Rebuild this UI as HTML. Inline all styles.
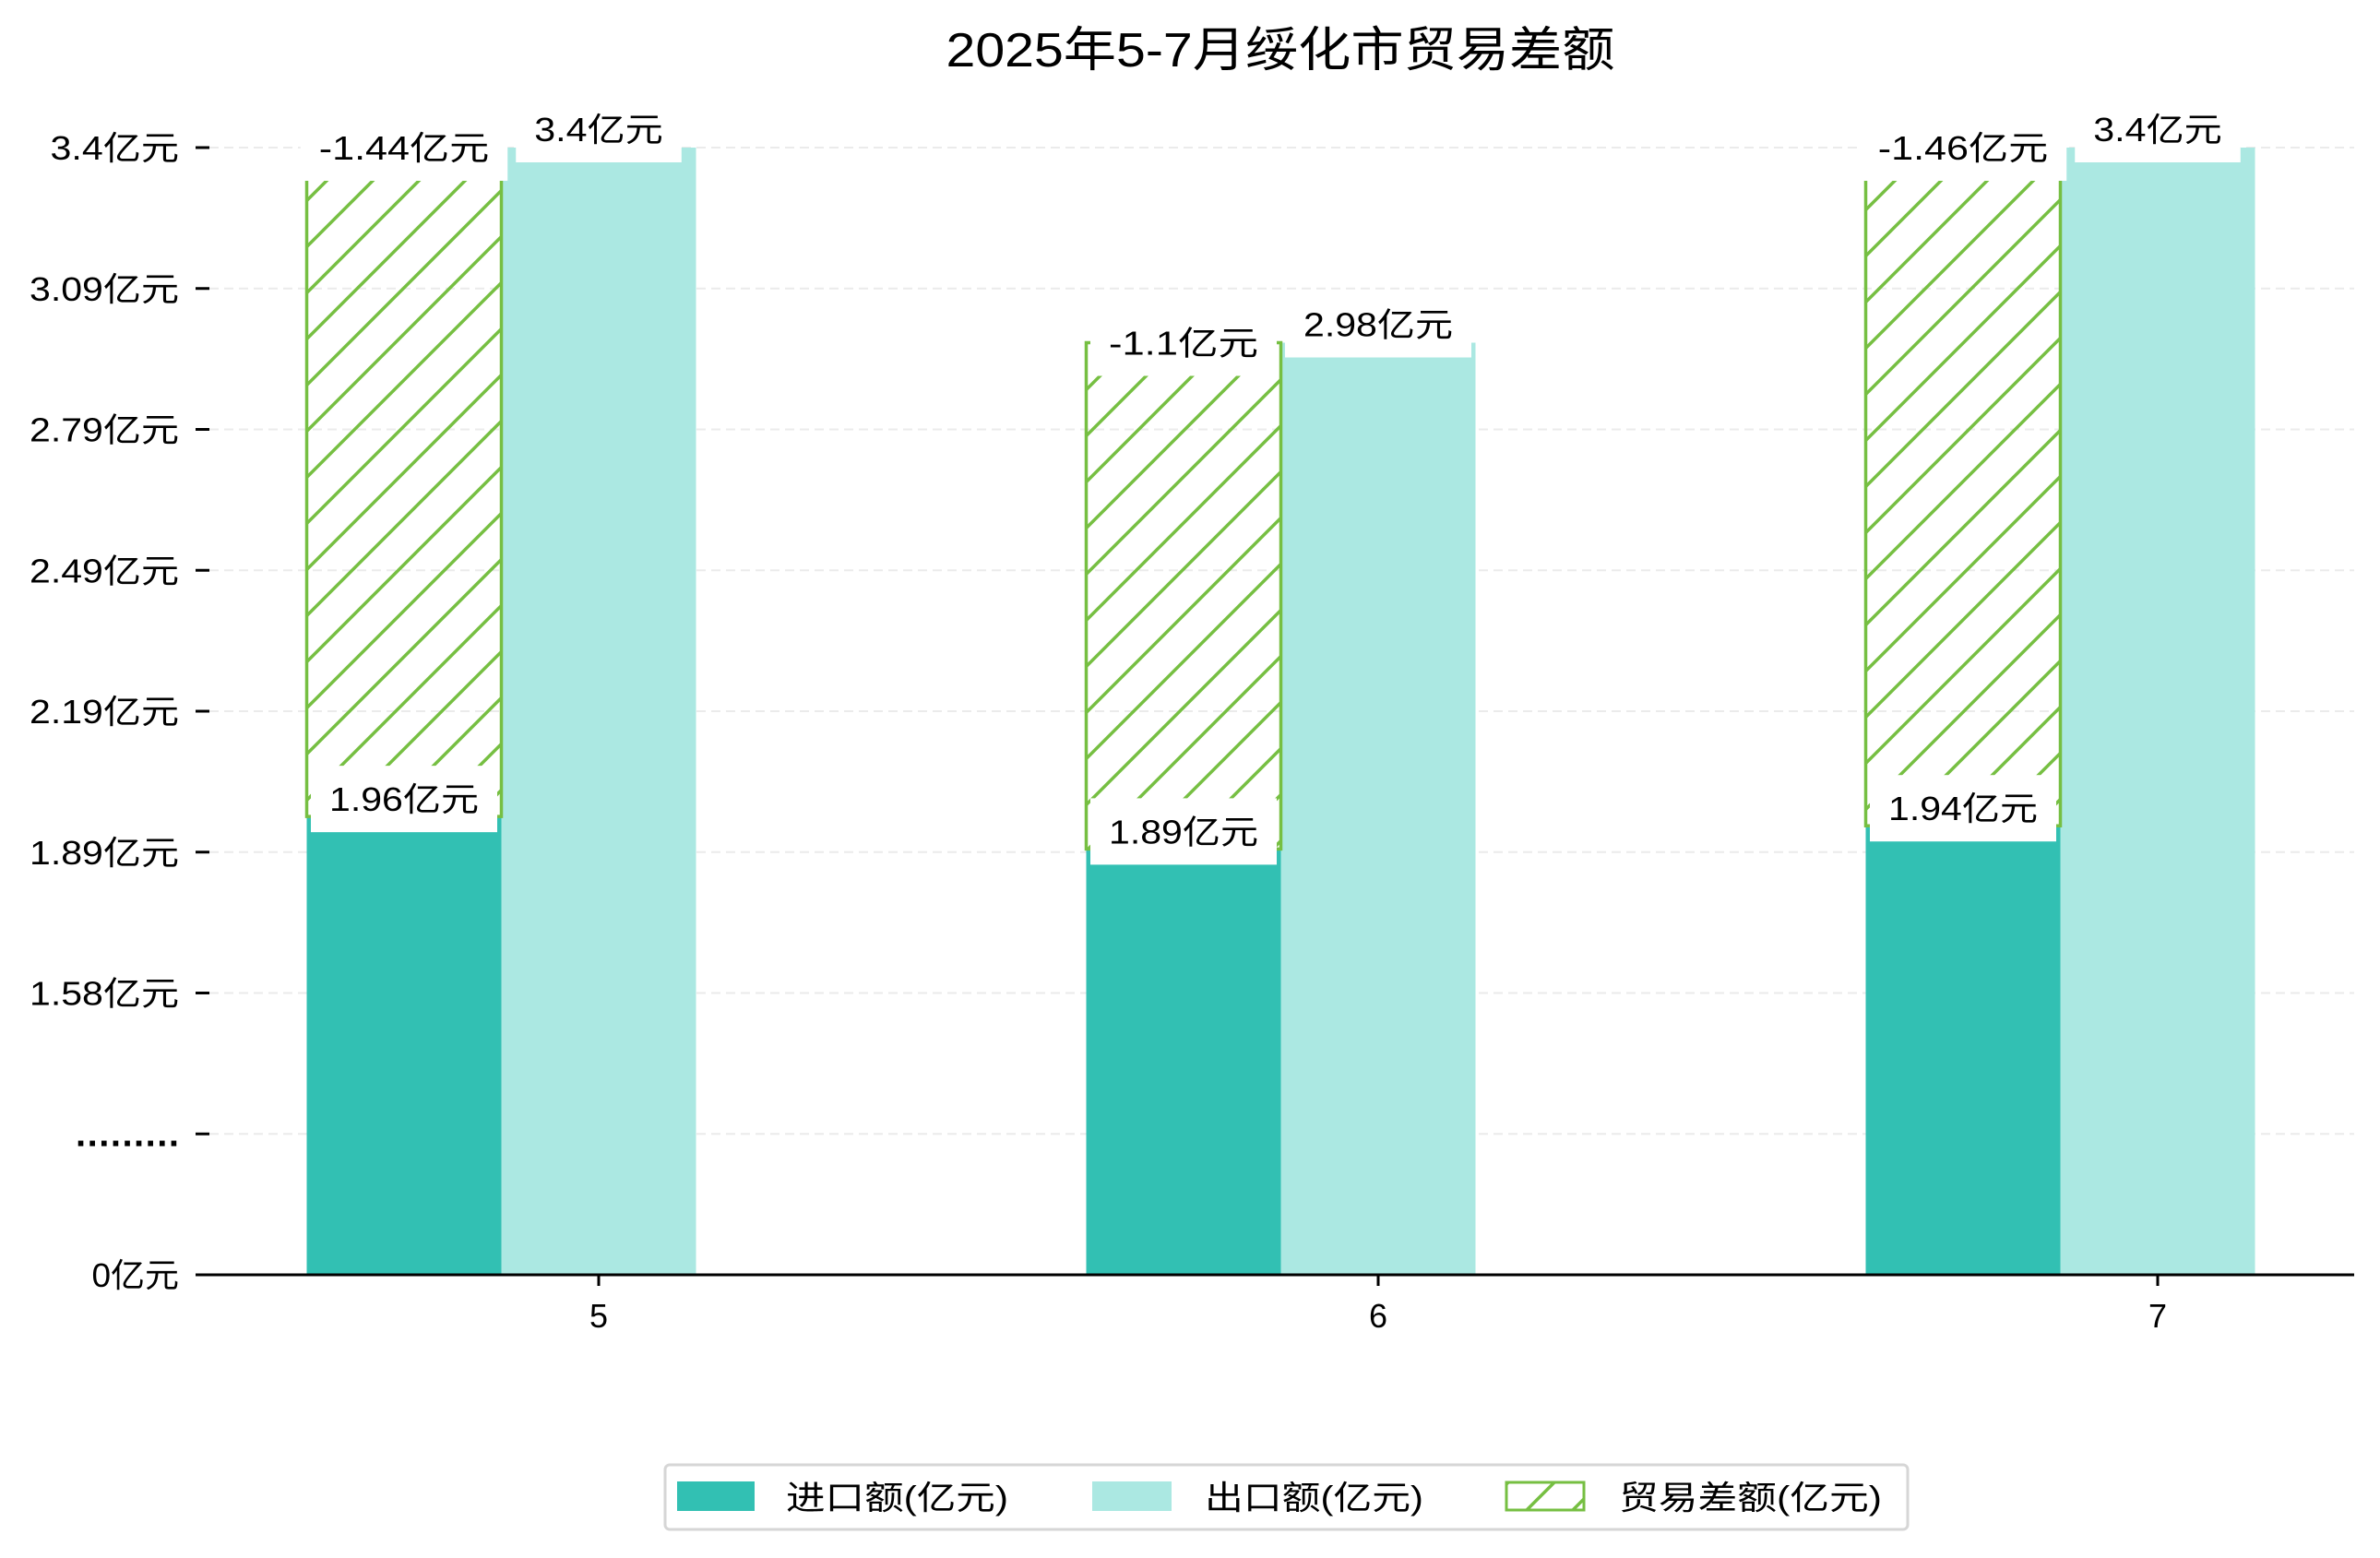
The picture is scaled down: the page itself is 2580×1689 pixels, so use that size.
<!DOCTYPE html>
<html><head><meta charset="utf-8">
<style>
html,body{margin:0;padding:0;background:#fff;}
svg{display:block;font-family:"Liberation Sans","Noto Sans CJK SC",sans-serif;}
</style></head>
<body>
<svg id="chart" width="2580" height="1689" viewBox="0 0 2580 1689" xmlns="http://www.w3.org/2000/svg">
<defs>
<pattern id="hatch" patternUnits="userSpaceOnUse" width="50" height="50">
<path d="M0,50 L50,0 M-10,10 L10,-10 M40,60 L60,40" stroke="#76bf42" stroke-width="3.5" fill="none"/>
</pattern>
</defs>
<text x="1388" y="72" text-anchor="middle" font-size="52" textLength="725" lengthAdjust="spacingAndGlyphs" fill="#000">2025年5-7月绥化市贸易差额</text>
<g id="grid"></g>
<g id="bars"></g>
<g id="labels"></g>
<g id="axes"></g>
<g transform="translate(0,-8)">
<rect x="721" y="1596" width="1347" height="70" rx="5" fill="#fff" stroke="#d6d6d6" stroke-width="3"/>
<rect x="734" y="1614" width="84" height="32" fill="#32c0b3"/>
<text x="852" y="1644" font-size="36" textLength="241" lengthAdjust="spacingAndGlyphs">进口额(亿元)</text>
<rect x="1184" y="1614" width="86" height="32" fill="#abe8e2"/>
<text x="1306" y="1644" font-size="36" textLength="237" lengthAdjust="spacingAndGlyphs">出口额(亿元)</text>
<rect x="1633" y="1615" width="84" height="30" fill="url(#hatch)" stroke="#76bf42" stroke-width="3"/>
<text x="1755" y="1644" font-size="36" textLength="285" lengthAdjust="spacingAndGlyphs">贸易差额(亿元)</text>
</g>
</svg>
<script>
const months = ['5', '6', '7'];
const importVals = [1.96, 1.89, 1.94];
const exportVals = [3.4, 2.98, 3.4];
const balanceVals = [-1.44, -1.1, -1.46];
const yTickLabels = ['0亿元', '.........', '1.58亿元', '1.89亿元', '2.19亿元', '2.49亿元', '2.79亿元', '3.09亿元', '3.4亿元'];
const yMinLinear = 1.58, yMaxLinear = 3.4;

const NS = 'http://www.w3.org/2000/svg';
const baseY = 1382, slotPx = 152.75, axisLeft = 212, axisRight = 2552;
const groupStart = 649, groupStep = 845, barW = 211;
const step = (yMaxLinear - yMinLinear) / 6;
function yScale(v) { if (v <= 0) return baseY; return baseY - slotPx * (2 + (v - yMinLinear) / step); }
function slotY(i) { return baseY - slotPx * i; }
function xCenter(i) { return groupStart + groupStep * i; }
function mk(tag, attrs, parent) { const e = document.createElementNS(NS, tag); for (const k in attrs) e.setAttribute(k, attrs[k]); parent.appendChild(e); return e; }
function fmt(v) { return String(Math.round(v * 100) / 100) + '亿元'; }
function textW(s) { let w = 0; for (const c of s) w += (c.charCodeAt(0) > 255) ? 36 : 22.5; return w; }

const grid = document.getElementById('grid'), bars = document.getElementById('bars'), labels = document.getElementById('labels'), axes = document.getElementById('axes');

yTickLabels.forEach((lab, i) => {
  const y = slotY(i);
  if (i > 0) {
    const g = mk('line', {x1: 227, x2: axisRight, y1: y, y2: y, stroke: '#ebebeb', 'stroke-width': 2, 'stroke-dasharray': '10,6'}, grid);
    
    
  }
  const t = mk('line', {x1: axisLeft, x2: 227, y1: y, y2: y, stroke: '#000', 'stroke-width': 3}, axes);
  
  
  const attrs = {x: 194, y: y + 13, 'text-anchor': 'end', 'font-size': 36, fill: '#000'};
  if (i !== 1) { attrs.textLength = textW(lab); attrs.lengthAdjust = 'spacingAndGlyphs'; }
  else { attrs['font-size'] = 40; attrs['font-weight'] = 'bold'; attrs.textLength = 112; attrs.lengthAdjust = 'spacing'; }
  const tx = mk('text', attrs, axes);
  tx.textContent = lab;
  
  
});

const ax = mk('line', {x1: axisLeft, x2: axisRight, y1: baseY, y2: baseY, stroke: '#000', 'stroke-width': 3}, axes);



function addLabel(text, cx, cy, name) {
  const w = textW(text);
  const r = mk('rect', {x: cx - w / 2 - 20, y: cy - 36, width: w + 40, height: 72, fill: '#fff'}, labels);
  
  
  const t = mk('text', {x: cx, y: cy + 13, 'text-anchor': 'middle', 'font-size': 36, fill: '#000', textLength: w, lengthAdjust: 'spacingAndGlyphs'}, labels);
  t.textContent = text;
  
  
}

months.forEach((m, i) => {
  const cx = xCenter(i);
  const xi = cx - 1.5 * barW, xe = cx - 0.5 * barW;
  const yi = yScale(importVals[i]), ye = yScale(exportVals[i]);
  const bi = mk('rect', {x: xi, y: yi, width: barW, height: baseY - yi, fill: '#32c0b3'}, bars);
  
  
  const be = mk('rect', {x: xe, y: ye, width: barW, height: baseY - ye, fill: '#abe8e2'}, bars);
  
  
  const top = Math.min(yi, ye), bot = Math.max(yi, ye);
  const bd = mk('rect', {x: xi, y: top, width: barW, height: bot - top, fill: 'url(#hatch)', stroke: '#76bf42', 'stroke-width': 3.5}, bars);
  
  

  addLabel(fmt(importVals[i]), xi + barW / 2, yi - 19, 'import-value-label');
  addLabel(fmt(exportVals[i]), xe + barW / 2, ye - 20, 'export-value-label');
  addLabel(fmt(balanceVals[i]), xi + barW / 2, ye, 'balance-value-label');

  const tk = mk('line', {x1: cx, x2: cx, y1: baseY, y2: baseY + 12, stroke: '#000', 'stroke-width': 3}, axes);
  
  
  const tl = mk('text', {x: cx, y: 1439, 'text-anchor': 'middle', 'font-size': 36, fill: '#000'}, axes);
  tl.textContent = m;
  
  
});
</script>
</body></html>
